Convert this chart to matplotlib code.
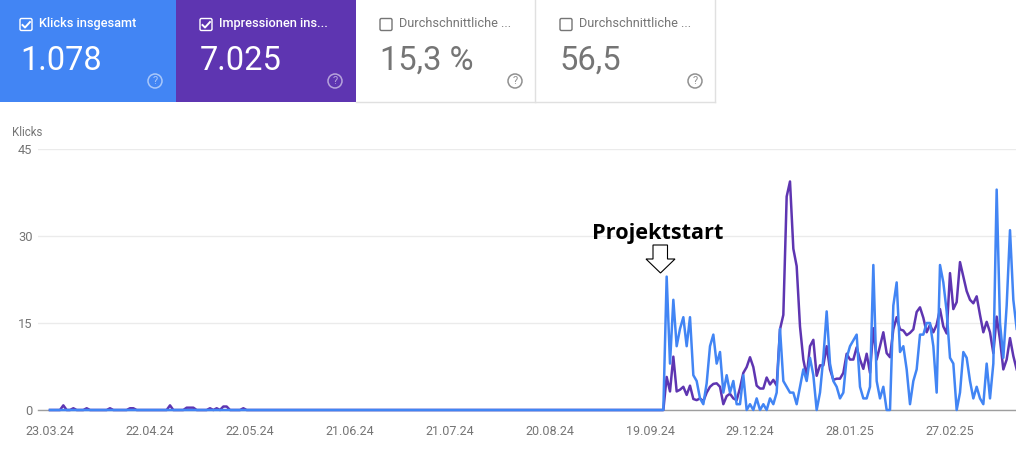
import matplotlib
matplotlib.use("Agg")
import matplotlib.pyplot as plt
from matplotlib.patches import Rectangle, FancyBboxPatch, Circle, Polygon

plt.rcParams['font.family'] = ['Roboto', 'DejaVu Sans']

BLUE = '#4285f4'
PURPLE = '#5e35b1'

# daily values, index 0 = 23.03.24
clicks_early = [0] * 185
clicks_late = [23, 8, 19, 11, 14, 16, 11, 16, 6, 5, 2, 1, 4.6, 11, 13, 8, 10, 3, 6, 3, 5, 1, 1, 6, 0, 1, 0, 2, 0, 1, 0, 2, 1, 3,
               14, 5, 4, 3, 3, 1, 4, 7, 5, 9, 6, 0, 3, 9, 17, 8, 5, 4, 2, 3, 9, 11, 12, 13, 4, 2, 2, 4, 25, 5, 2, 4, 0, 0, 18, 22,
               10, 11, 7, 1, 5, 7, 13, 13, 15, 15, 11, 3, 25, 22, 17, 9, 8, 0, 3, 10, 9, 5, 2, 4, 2, 1, 8, 2, 8, 38, 15, 9, 18, 31, 19, 14]
impressions_early = [0, 0, 0, 0, 0.8, 0, 0, 0.3, 0, 0, 0, 0.3, 0, 0, 0, 0, 0, 0, 0.3, 0, 0, 0, 0, 0, 0.3, 0.3, 0, 0, 0, 0, 0, 0, 0, 0, 0, 0,
                     0.8, 0, 0, 0, 0, 0.4, 0.4, 0.4, 0, 0, 0, 0, 0.3, 0, 0.3, 0, 0.6, 0.6, 0, 0, 0, 0, 0.3] + [0] * 126
impressions_late = [5.7, 3.2, 9.2, 3.2, 3.5, 4, 2.6, 4.2, 1.9, 1.7, 2, 1.5, 3, 4, 4.5, 4.6, 4, 1, 2.4, 2.8, 2, 1.7, 3.8, 6.4, 7.4, 9.1, 7.4, 4.2, 3.7, 3.7, 5.6, 4.4, 5.2, 4.2,
                    13.9, 16.4, 36.8, 39.4, 27.8, 24.8, 14.4, 8.7, 5.8, 11, 12.1, 5.9, 7.7, 7.7, 11, 7, 5.2, 5.4, 5.4, 6.4, 9.7, 8.7, 8.7, 10.8, 8.7, 7.1, 9.7, 6.4,
                    14.1, 8.7, 11, 13.4, 9.8, 9.1, 13.9, 16, 13.9, 13.7, 12.9, 13.3, 13.9, 16.9, 17.7, 15.9, 13.4, 14.7, 13.4, 14.7, 17.4, 14.4, 13.2, 23.6, 17.4, 18.6,
                    25.5, 23, 20.5, 19, 18.4, 19.6, 16.4, 13.4, 15.2, 13.4, 9.8, 16.1, 12.1, 7, 8.7, 12.4, 9.3, 7]
clicks = clicks_early + clicks_late
impressions = impressions_early + impressions_late

tick_days = [0, 30, 60, 90, 120, 150, 180, 210, 240, 270]
tick_labels = ['23.03.24', '22.04.24', '22.05.24', '21.06.24', '21.07.24', '20.08.24', '19.09.24', '29.12.24', '28.01.25', '27.02.25']
y_ticks = [0, 15, 30, 45]

W, H = 1016, 455
fig = plt.figure(figsize=(W / 100, H / 100), dpi=100, facecolor='white')

# chart
top, bottom, left = 149, 410, 38
ax = fig.add_axes([left / W, 1 - bottom / H, (W - left) / W, (bottom - top) / H])
ax.set_xlim((left - 50) / (100 / 30), (W - 50) / (100 / 30))
ax.set_ylim(0, 45)
ax.set_facecolor('none')
for s in ax.spines.values():
    s.set_visible(False)
ax.spines['bottom'].set_visible(True)
ax.spines['bottom'].set_color('#9e9e9e')
ax.spines['bottom'].set_linewidth(1)
ax.set_yticks(y_ticks)
ax.set_xticks(tick_days, tick_labels)
ax.tick_params(length=0)
ax.tick_params(axis='x', labelsize=9, labelcolor='#757575', pad=11)
ax.tick_params(axis='y', labelsize=9.3, labelcolor='#757575', pad=4)
ax.grid(axis='y', color='#ebebeb', lw=1)
ax.set_axisbelow(True)
ax.plot(range(len(impressions)), impressions, color=PURPLE, lw=1.8, solid_joinstyle='round', clip_on=False, zorder=3)
ax.plot(range(len(clicks)), clicks, color=BLUE, lw=1.8, solid_joinstyle='round', clip_on=False, zorder=4)

# pixel overlay
ov = fig.add_axes([0, 0, 1, 1])
ov.set_xlim(0, W)
ov.set_ylim(H, 0)
ov.axis('off')
ov.patch.set_alpha(0)

ov.text(12, 132.5, 'Klicks', fontsize=8.3, color='#757575', va='center', ha='left')


def card(x0, w, pad, fill, title, value, active):
    fg = 'white' if active else '#757575'
    if active:
        ov.add_patch(Rectangle((x0, 0), w, 101.5, fc=fill, ec='none'))
    else:
        ov.plot([x0 + w - 1, x0 + w - 1], [0, 101.5], color='#e0e0e0', lw=1)
        ov.plot([x0, x0 + w - 1], [101.5, 101.5], color='#e0e0e0', lw=1)
    bx, by = x0 + pad, 18.5
    ov.add_patch(FancyBboxPatch((bx + 1, by + 1), 10, 10, boxstyle='round,pad=1,rounding_size=1.5',
                                fc='none', ec='white' if active else '#757575', lw=1))
    if active:
        ov.plot([bx + 2.5, bx + 5, bx + 10], [by + 6.5, by + 9, by + 3.5], color='white', lw=1.4)
    ov.text(x0 + pad + 19, 23.5, title, fontsize=9.2, color='white' if active else '#757575', va='center', ha='left',
            fontweight='medium' if active else 'normal')
    ov.text(x0 + pad, 60.5, value, fontsize=23.5, color=fg, va='center', ha='left')
    hx = x0 + pad + 135
    ov.add_patch(Circle((hx, 81), 7, fc='none', ec=fg, lw=1.1, alpha=0.55 if active else 0.8))
    ov.text(hx, 81.3, '?', fontsize=8, color=fg, va='center', ha='center', alpha=0.55 if active else 0.8)


card(0, 176, 20, BLUE, 'Klicks insgesamt', '1.078', True)
card(176, 180, 24, PURPLE, 'Impressionen ins...', '7.025', True)
card(356, 180, 24, 'white', 'Durchschnittliche ...', '15,3 %', False)
card(536, 180, 24, 'white', 'Durchschnittliche ...', '56,5', False)

ov.text(592, 233.5, 'Projektstart', fontsize=15.6, fontweight='bold', color='black', family='Open Sans', va='center', ha='left')
ov.add_patch(Polygon([(653, 245), (667.5, 245), (667.5, 259), (675, 259), (660.5, 273), (646, 259), (653, 259)],
                     closed=True, fc='white', ec='black', lw=0.8))

fig.savefig('out.png', dpi=100, facecolor='white')
